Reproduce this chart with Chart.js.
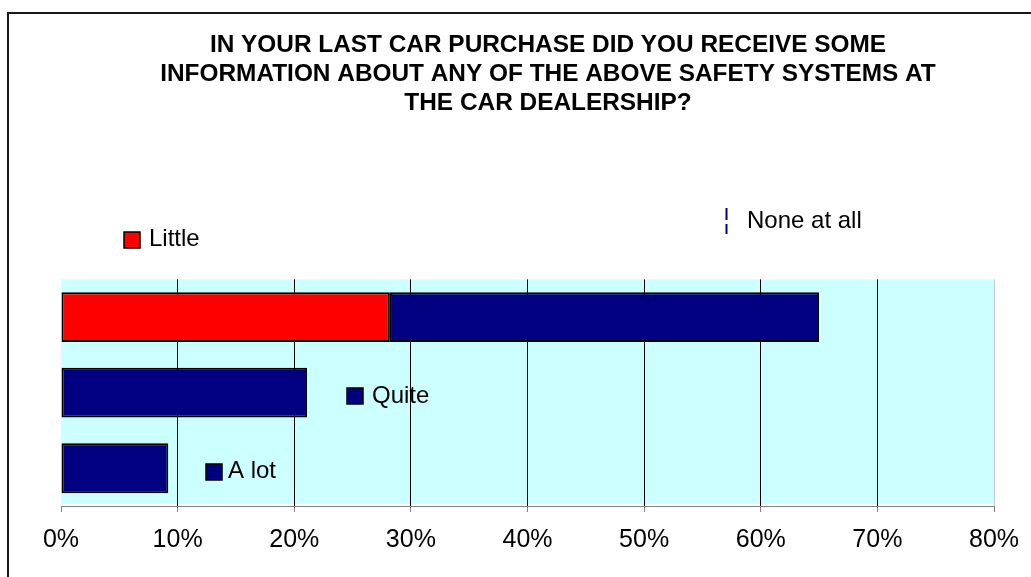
<!DOCTYPE html>
<html>
<head>
<meta charset="utf-8">
<title>Car dealership safety information</title>
<script src="https://cdn.jsdelivr.net/npm/chart.js@4.4.1/dist/chart.umd.min.js"></script>
<style>
  html, body { margin: 0; padding: 0; background: #fff; overflow: hidden; }
  #frame {
    position: absolute; left: 7px; top: 12px;
    width: 1078px; height: 600px;
    border: 2px solid #1a1a1a;
    background: #fff;
  }
  #chart { display: block; }
</style>
</head>
<body>
<div id="frame"><canvas id="chart" width="1078" height="552"></canvas></div>
<script>
// Three answer rows; the first row is split into two stacked segments.
const rows = ['', '', ''];
const seriesNames = ['Little', 'None at all', 'Quite', 'A lot'];
const little    = [28.2, null, null];
const noneAtAll = [36.8, null, null];
const quite     = [null, 21.1, null];
const aLot      = [null, null, 9.2];
const xTicks = [0, 10, 20, 30, 40, 50, 60, 70, 80];

const RED = '#FF0000';
const NAVY = '#000080';
const FONT = '"Liberation Sans", Arial, Helvetica, sans-serif';

// Where each legend entry sits on the canvas (marker box / dashed mark + label).
const legendSpots = [
  { name: 'Little',      kind: 'box',  color: RED,  x: 115, y: 218, tx: 140, ty: 232 },
  { name: 'None at all', kind: 'dash', color: NAVY, x: 717.5, y: 194, tx: 738, ty: 214 },
  { name: 'Quite',       kind: 'box',  color: NAVY, x: 338, y: 374, tx: 363, ty: 389 },
  { name: 'A lot',       kind: 'box',  color: NAVY, x: 197, y: 450, tx: 219, ty: 464 }
];

const plotBackground = {
  id: 'plotBackground',
  beforeDraw(chart) {
    const { ctx, chartArea: a } = chart;
    ctx.save();
    ctx.fillStyle = '#CCFFFF';
    ctx.fillRect(a.left, a.top, a.right - a.left, a.bottom - a.top - 2);
    ctx.restore();
  }
};

const scatteredLegend = {
  id: 'scatteredLegend',
  afterDraw(chart) {
    const ctx = chart.ctx;
    ctx.save();
    ctx.font = '24px ' + FONT;
    ctx.textBaseline = 'alphabetic';
    ctx.textAlign = 'left';
    legendSpots.forEach(s => {
      if (s.kind === 'box') {
        ctx.fillStyle = s.color;
        ctx.fillRect(s.x, s.y, 16, 16);
        ctx.strokeStyle = '#000';
        ctx.lineWidth = 1.5;
        ctx.strokeRect(s.x, s.y, 16, 16);
      } else {
        ctx.strokeStyle = s.color;
        ctx.lineWidth = 2;
        ctx.beginPath();
        ctx.moveTo(s.x, s.y); ctx.lineTo(s.x, s.y + 12);
        ctx.moveTo(s.x, s.y + 16); ctx.lineTo(s.x, s.y + 26);
        ctx.stroke();
      }
      ctx.fillStyle = '#000';
      ctx.fillText(s.name, s.tx, s.ty);
    });
    ctx.restore();
  }
};

const barStyle = { borderColor: '#000', borderWidth: 2, borderSkipped: false,
                   categoryPercentage: 1, barPercentage: 0.66 };

new Chart(document.getElementById('chart'), {
  type: 'bar',
  data: {
    labels: rows,
    datasets: [
      Object.assign({ label: seriesNames[0], data: little,    backgroundColor: RED  }, barStyle),
      Object.assign({ label: seriesNames[1], data: noneAtAll, backgroundColor: NAVY }, barStyle),
      Object.assign({ label: seriesNames[2], data: quite,     backgroundColor: NAVY }, barStyle),
      Object.assign({ label: seriesNames[3], data: aLot,      backgroundColor: NAVY }, barStyle)
    ]
  },
  options: {
    indexAxis: 'y',
    responsive: false,
    animation: false,
    devicePixelRatio: 1,
    layout: { padding: 0 },
    plugins: {
      legend: { display: false },
      tooltip: { enabled: false },
      title: {
        display: true,
        text: ['IN YOUR LAST CAR PURCHASE DID YOU RECEIVE SOME',
               'INFORMATION ABOUT ANY OF THE ABOVE SAFETY SYSTEMS AT',
               'THE CAR DEALERSHIP?'],
        color: '#000',
        font: { family: FONT, size: 24.4, weight: 'bold', lineHeight: 1.18 },
        padding: { top: 17, bottom: 162 }
      }
    },
    scales: {
      x: {
        type: 'linear',
        stacked: true,
        min: xTicks[0],
        max: xTicks[xTicks.length - 1],
        afterBuildTicks(scale) { scale.ticks = xTicks.map(v => ({ value: v })); },
        ticks: {
          color: '#000',
          font: { family: FONT, size: 25, lineHeight: 1.2 },
          padding: 13,
          maxRotation: 0,
          callback: v => v + '%'
        },
        grid: {
          color: ctx => {
            const v = ctx.tick ? ctx.tick.value : null;
            if (v === 0) return 'rgba(0,0,0,0)';
            if (v === 80) return '#c8c8c8';
            return '#000';
          },
          lineWidth: 1,
          tickColor: '#808080',
          tickLength: 6,
          drawTicks: true
        },
        border: { display: true, color: '#808080', width: 1 },
        afterFit(scale) { scale.height = 60; }
      },
      y: {
        type: 'category',
        stacked: true,
        ticks: { display: false },
        grid: { display: false },
        border: { display: false },
        afterFit(scale) { scale.width = 52; }
      },
      yRight: {
        type: 'linear',
        position: 'right',
        display: true,
        ticks: { display: false },
        grid: { display: false },
        border: { display: false },
        afterFit(scale) { scale.width = 93; }
      }
    }
  },
  plugins: [plotBackground, scatteredLegend]
});
</script>
</body>
</html>
